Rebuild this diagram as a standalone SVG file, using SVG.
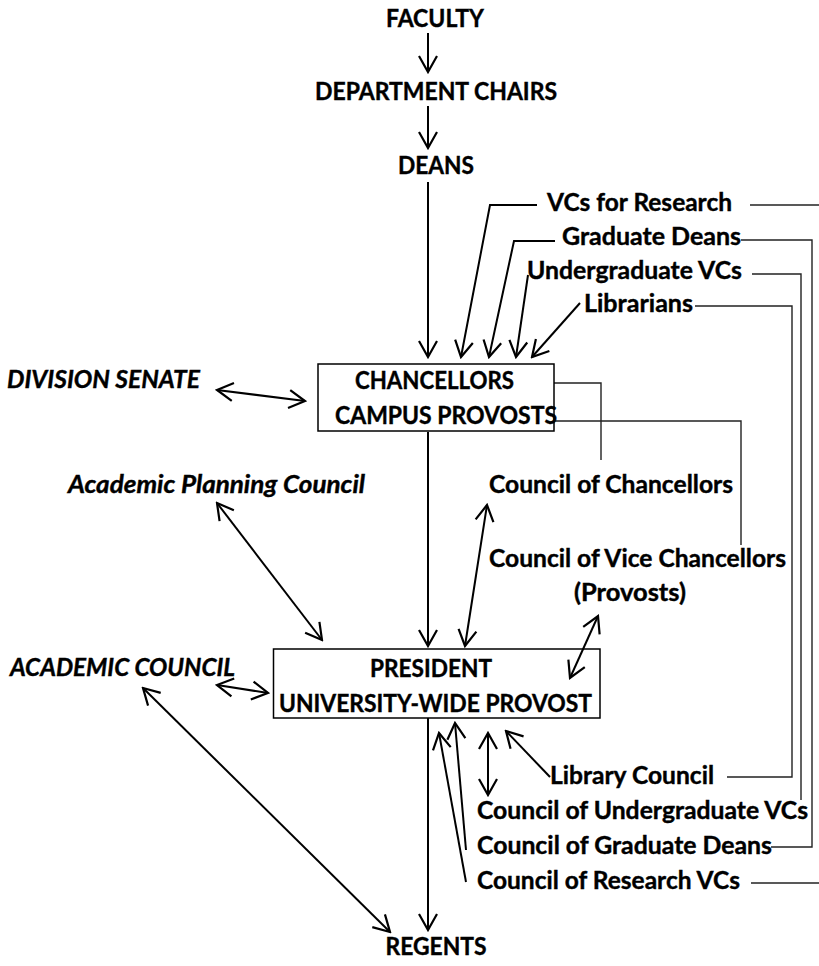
<svg xmlns="http://www.w3.org/2000/svg" width="819" height="966" viewBox="0 0 819 966">
  <defs>
    <marker id="arrow" viewBox="-2 -12 20 24" refX="16" refY="0" markerWidth="20" markerHeight="24" markerUnits="userSpaceOnUse" orient="auto-start-reverse">
      <path d="M0,-9 L16,0 L0,9" fill="none" stroke="#000" stroke-width="2.2" stroke-linejoin="miter"/>
    </marker>
    <style>
      text { font-family: Lato, "Open Sans", "Liberation Sans", sans-serif; font-weight: 700; font-size: 24.5px; fill: #000; stroke: #000; stroke-width: 0.4px; }
      .it { font-style: italic; }
      .mid { text-anchor: middle; }
      .node rect { fill: none; stroke: #000; stroke-width: 1.5; }
      .link { fill: none; stroke: #000; stroke-width: 2; }
      .one { marker-end: url(#arrow); }
      .two { marker-start: url(#arrow); marker-end: url(#arrow); }
      .tie { fill: none; stroke: #222; stroke-width: 1.4; }
    </style>
  </defs>
  <rect width="819" height="966" fill="#fff"/>

  <!-- connectors -->
  <g id="connectors">
    <path class="link one" d="M428,33 L428,72"/>
    <path class="link one" d="M428,106 L428,148"/>
    <path class="link one" d="M428,182 L428,357"/>
    <path class="link one" d="M537,205 L490,205 L461,357"/>
    <path class="link one" d="M555,241 L514,241 L489,357"/>
    <path class="link one" d="M528,275 L516,357"/>
    <path class="link one" d="M580,303 L532,357"/>
    <path class="link two" d="M217,390 L305,401"/>
    <path class="link one" d="M428,432 L428,646"/>
    <path class="link two" d="M217,503 L322,640"/>
    <path class="link two" d="M487,505 L465,646"/>
    <path class="link two" d="M598,616 L570,678"/>
    <path class="link two" d="M217,685 L268,693"/>
    <path class="link two" d="M143,688 L390,932"/>
    <path class="link one" d="M428,718 L428,930"/>
    <path class="link one" d="M550,777 L506,731"/>
    <path class="link two" d="M488,733 L488,795"/>
    <path class="link one" d="M466,850 L455,723"/>
    <path class="link one" d="M466,882 L439,733"/>

    <!-- plain ties to the right-hand side -->
    <path class="tie" d="M750,205 L819,205"/>
    <path class="tie" d="M741,240 L812,240 L812,847 L771,847"/>
    <path class="tie" d="M752,274 L801,274 L801,800"/>
    <path class="tie" d="M695,306 L792,306 L792,777 L727,777"/>
    <path class="tie" d="M554,383 L601,383 L601,460"/>
    <path class="tie" d="M554,421 L741,421 L741,545"/>
    <path class="tie" d="M751,883 L819,883"/>
  </g>

  <g id="faculty"><text class="mid" x="435" y="27" textLength="98" lengthAdjust="spacingAndGlyphs">FACULTY</text></g>
  <g id="department-chairs"><text class="mid" x="436" y="100" textLength="242" lengthAdjust="spacingAndGlyphs">DEPARTMENT CHAIRS</text></g>
  <g id="deans"><text class="mid" x="436" y="174" textLength="76" lengthAdjust="spacingAndGlyphs">DEANS</text></g>
  <g id="vcs-research"><text x="547" y="211" textLength="185" lengthAdjust="spacingAndGlyphs">VCs for Research</text></g>
  <g id="graduate-deans"><text x="562" y="245" textLength="179" lengthAdjust="spacingAndGlyphs">Graduate Deans</text></g>
  <g id="undergraduate-vcs"><text x="527" y="279" textLength="215" lengthAdjust="spacingAndGlyphs">Undergraduate VCs</text></g>
  <g id="librarians"><text x="584" y="312" textLength="109" lengthAdjust="spacingAndGlyphs">Librarians</text></g>
  <g id="division-senate"><text class="it" x="7" y="388" textLength="193" lengthAdjust="spacingAndGlyphs">DIVISION SENATE</text></g>

  <g id="chancellors" class="node">
    <rect x="318" y="364" width="236" height="67"/>
    <text x="355" y="389" textLength="159" lengthAdjust="spacingAndGlyphs">CHANCELLORS</text>
    <text x="335" y="424" textLength="222" lengthAdjust="spacingAndGlyphs">CAMPUS PROVOSTS</text>
  </g>

  <g id="academic-planning-council"><text class="it" x="68" y="493" textLength="297" lengthAdjust="spacingAndGlyphs">Academic Planning Council</text></g>
  <g id="council-of-chancellors"><text x="489" y="493" textLength="244" lengthAdjust="spacingAndGlyphs">Council of Chancellors</text></g>
  <g id="council-of-vice-chancellors">
    <text x="489" y="567" textLength="297" lengthAdjust="spacingAndGlyphs">Council of Vice Chancellors</text>
    <text x="574" y="601" textLength="112" lengthAdjust="spacingAndGlyphs">(Provosts)</text>
  </g>
  <g id="academic-council"><text class="it" x="10" y="676" textLength="225" lengthAdjust="spacingAndGlyphs">ACADEMIC COUNCIL</text></g>

  <g id="president" class="node">
    <rect x="273.5" y="649" width="326.5" height="69"/>
    <text x="370" y="677" textLength="122" lengthAdjust="spacingAndGlyphs">PRESIDENT</text>
    <text x="279" y="712" textLength="313" lengthAdjust="spacingAndGlyphs">UNIVERSITY-WIDE PROVOST</text>
  </g>

  <g id="library-council"><text x="550" y="784" textLength="164" lengthAdjust="spacingAndGlyphs">Library Council</text></g>
  <g id="council-undergraduate-vcs"><text x="477" y="819" textLength="331" lengthAdjust="spacingAndGlyphs">Council of Undergraduate VCs</text></g>
  <g id="council-graduate-deans"><text x="477" y="854" textLength="295" lengthAdjust="spacingAndGlyphs">Council of Graduate Deans</text></g>
  <g id="council-research-vcs"><text x="477" y="889" textLength="263" lengthAdjust="spacingAndGlyphs">Council of Research VCs</text></g>
  <g id="regents"><text class="mid" x="436" y="955" textLength="101" lengthAdjust="spacingAndGlyphs">REGENTS</text></g>
</svg>
